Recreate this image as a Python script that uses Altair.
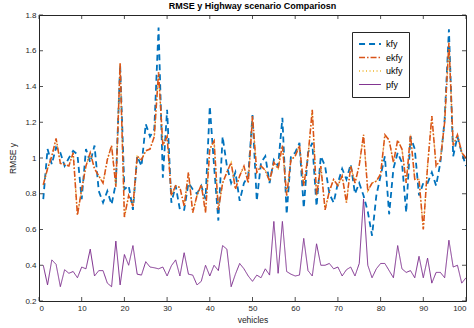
import altair as alt
import pandas as pd

vehicles = list(range(1, 101))

kfy = [0.77, 1.05, 0.965, 1.06, 1.03, 0.955, 1.00, 1.04, 1.02, 0.77,
       1.05, 0.975, 1.07, 0.815, 0.75, 0.815, 0.74, 0.86, 1.52, 0.825,
       0.845, 0.71, 1.01, 0.955, 1.19, 1.12, 1.16, 1.73, 0.89, 1.27,
       0.75, 0.845, 0.71, 0.71, 0.86, 0.825, 0.80, 0.845, 0.77, 1.29,
       0.955, 0.65, 1.12, 0.955, 0.86, 0.92, 0.76, 0.86, 0.90, 1.24,
       0.76, 0.975, 1.01, 0.86, 0.99, 0.955, 1.225, 0.685, 1.01, 1.03,
       1.085, 0.72, 1.03, 1.085, 0.73, 1.01, 0.955, 0.80, 0.75, 0.86,
       0.94, 0.88, 0.965, 0.80, 0.86, 0.79, 0.70, 0.565, 0.79, 0.90,
       1.01, 0.685, 0.94, 1.03, 0.975, 0.695, 1.12, 1.05, 0.79, 0.86,
       0.86, 0.92, 0.845, 0.975, 1.215, 1.72, 1.01, 1.12, 1.03, 0.955]

ekfy = [0.85, 0.94, 1.01, 1.11, 0.97, 0.965, 0.955, 1.03, 0.68, 0.825,
        0.955, 1.03, 0.94, 0.90, 0.86, 0.99, 1.07, 0.84, 1.53, 0.67,
        0.79, 0.73, 1.01, 0.99, 1.04, 1.05, 1.12, 1.48, 1.07, 1.12,
        0.79, 0.845, 0.835, 0.73, 0.92, 0.695, 0.79, 0.85, 0.695, 1.05,
        1.095, 0.71, 0.86, 0.92, 0.975, 0.825, 0.90, 0.955, 0.86, 1.235,
        0.92, 0.955, 0.93, 0.87, 0.975, 0.94, 1.07, 0.79, 0.99, 1.01,
        1.07, 0.845, 1.01, 1.27, 0.79, 0.955, 0.71, 0.815, 0.88, 0.845,
        0.90, 0.75, 0.955, 0.86, 0.96, 1.13, 0.815, 0.86, 0.87, 0.91,
        1.13, 1.10, 0.975, 1.10, 1.05, 0.86, 1.13, 0.88, 0.88, 0.60,
        0.955, 1.235, 0.955, 0.99, 1.20, 1.645, 1.07, 1.13, 1.03, 1.00]

ukfy = [0.85, 0.94, 1.01, 1.11, 0.97, 0.965, 0.955, 1.03, 0.68, 0.825,
        0.955, 1.03, 0.94, 0.90, 0.86, 0.99, 1.07, 0.84, 1.53, 0.67,
        0.79, 0.73, 1.01, 0.99, 1.04, 1.05, 1.12, 1.48, 1.07, 1.12,
        0.79, 0.845, 0.835, 0.73, 0.92, 0.695, 0.79, 0.85, 0.695, 1.05,
        1.095, 0.71, 0.86, 0.92, 0.975, 0.825, 0.90, 0.955, 0.86, 1.235,
        0.92, 0.955, 0.93, 0.87, 0.975, 0.94, 1.07, 0.79, 0.99, 1.01,
        1.07, 0.845, 1.01, 1.27, 0.79, 0.955, 0.71, 0.815, 0.88, 0.845,
        0.90, 0.75, 0.955, 0.86, 0.96, 1.13, 0.815, 0.86, 0.87, 0.91,
        1.13, 1.10, 0.975, 1.10, 1.05, 0.86, 1.13, 0.88, 0.88, 0.60,
        0.955, 1.235, 0.955, 0.99, 1.20, 1.645, 1.07, 1.13, 1.03, 1.00]

pfy = [0.40, 0.29, 0.43, 0.405, 0.28, 0.375, 0.355, 0.365, 0.33, 0.39,
       0.38, 0.49, 0.34, 0.37, 0.37, 0.30, 0.28, 0.535, 0.29, 0.46,
       0.40, 0.51, 0.35, 0.345, 0.42, 0.39, 0.386, 0.38, 0.39, 0.34,
       0.397, 0.43, 0.34, 0.47, 0.35, 0.345, 0.29, 0.31, 0.40, 0.34,
       0.40, 0.37, 0.51, 0.49, 0.28, 0.35, 0.41, 0.38, 0.34, 0.31,
       0.345, 0.33, 0.38, 0.345, 0.645, 0.355, 0.645, 0.365, 0.35, 0.34,
       0.345, 0.55, 0.37, 0.34, 0.52, 0.40, 0.40, 0.41, 0.38, 0.39,
       0.34, 0.375, 0.39, 0.34, 0.41, 0.77, 0.40, 0.33, 0.38, 0.41,
       0.41, 0.37, 0.33, 0.51, 0.38, 0.36, 0.37, 0.33, 0.45, 0.33,
       0.44, 0.30, 0.36, 0.36, 0.33, 0.54, 0.39, 0.40, 0.30, 0.33]

series_names = ["kfy", "ekfy", "ukfy", "pfy"]
series_colors = ["#0072BD", "#D95319", "#EDB120", "#7E2F8E"]
series_dash = [[6, 4], [6, 2, 1.5, 2], [1, 2.5], [1, 0]]
series_width = [1.8, 1.0, 0.8, 1.0]
draw_order = [0, 2, 1, 3]   # kfy, ukfy, ekfy, pfy

x_ticks = list(range(0, 101, 10))
y_ticks = [0.2, 0.4, 0.6, 0.8, 1.0, 1.2, 1.4, 1.6, 1.8]

rows = []
for name, vals, o in zip(series_names, [kfy, ekfy, ukfy, pfy], draw_order):
    for v, r in zip(vehicles, vals):
        rows.append({"vehicle": v, "series": name, "rmse": r, "z": o})
df = pd.DataFrame(rows).sort_values(["z", "vehicle"])

W, H = 427, 286
FONT = "Liberation Sans"
AX = "#262626"

x_scale = alt.Scale(domain=[0, 100], nice=False, zero=False)
y_scale = alt.Scale(domain=[0.2, 1.8], nice=False, zero=False)
x_axis = alt.Axis(values=x_ticks, title="vehicles", format="d")
y_axis = alt.Axis(values=y_ticks, title="RMSE y", format="~g")

leg = alt.Legend(
    title=None, orient="none", legendX=313, legendY=17,
    symbolType="stroke", symbolSize=480, clipHeight=12, rowPadding=1.5,
    labelFont=FONT, labelFontSize=9, labelColor="black", labelOffset=4,
    fillColor="white", strokeColor=AX, padding=6, direction="vertical",
)

lines = alt.Chart(df).mark_line(clip=True).encode(
    x=alt.X("vehicle:Q", scale=x_scale, axis=x_axis, title="vehicles"),
    y=alt.Y("rmse:Q", scale=y_scale, axis=y_axis, title="RMSE y"),
    color=alt.Color("series:N", scale=alt.Scale(domain=series_names, range=series_colors), legend=leg),
    strokeDash=alt.StrokeDash("series:N", scale=alt.Scale(domain=series_names, range=series_dash), legend=leg),
    strokeWidth=alt.StrokeWidth("series:N", scale=alt.Scale(domain=series_names, range=series_width), legend=leg),
    detail="z:O",
)

xt = pd.DataFrame({"t": x_ticks})
yt = pd.DataFrame({"t": y_ticks})

tick_b = alt.Chart(xt).mark_rule(color=AX, strokeWidth=0.8).encode(
    x=alt.X("t:Q", scale=x_scale, axis=x_axis, title="vehicles"), y=alt.value(H), y2=alt.value(H - 4))
tick_t = alt.Chart(xt).mark_rule(color=AX, strokeWidth=0.8).encode(
    x=alt.X("t:Q", scale=x_scale, axis=x_axis, title="vehicles"), y=alt.value(0), y2=alt.value(4))
tick_l = alt.Chart(yt).mark_rule(color=AX, strokeWidth=0.8).encode(
    y=alt.Y("t:Q", scale=y_scale, axis=y_axis, title="RMSE y"), x=alt.value(0), x2=alt.value(4))
tick_r = alt.Chart(yt).mark_rule(color=AX, strokeWidth=0.8).encode(
    y=alt.Y("t:Q", scale=y_scale, axis=y_axis, title="RMSE y"), x=alt.value(W), x2=alt.value(W - 4))

chart = alt.layer(lines, tick_b, tick_t, tick_l, tick_r).properties(
    width=W, height=H,
    title=alt.TitleParams("RMSE y Highway scenario Compariosn", font=FONT, fontSize=9,
                          fontWeight="bold", color="black", anchor="middle", offset=0),
    padding={"left": 39, "top": 15, "right": 8, "bottom": 27},
    autosize=alt.AutoSizeParams(type="none"),
    background="white",
).configure_view(
    stroke=AX, strokeWidth=1
).configure_axis(
    grid=False, domain=False, ticks=False,
    labelFont=FONT, labelFontSize=8, labelColor=AX, labelPadding=3,
    titleFont=FONT, titleFontSize=8.5, titleColor=AX, titleFontWeight="normal",
).configure_axisX(
    titlePadding=3
).configure_axisY(
    titlePadding=7
)

chart.save("out.html", embed_options={"renderer": "svg", "actions": False})
